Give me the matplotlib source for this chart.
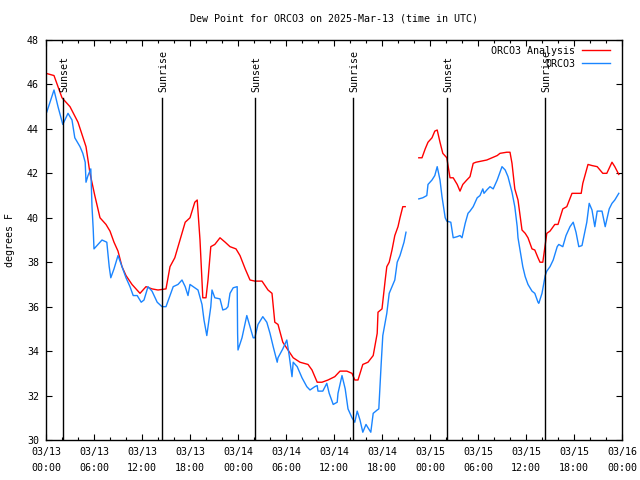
import matplotlib
matplotlib.use("Agg")
import matplotlib.pyplot as plt
import numpy as np

# hours since 2025-03-13 00:00 UTC
red_hours = [0, 1, 1.4, 2, 3, 4, 5, 5.5, 6.1, 6.75, 7.5, 8, 8.5, 9, 9.5, 10, 10.75,
             11.75, 12.5, 13.25, 14, 15, 15.5, 16.1, 16.75, 17.4, 18, 18.6, 18.9,
             19.25, 19.6, 20, 20.25, 20.6, 21.1, 21.75, 22.4, 23, 23.75, 24.25, 24.9,
             25.5, 26.1, 27, 27.75, 28.25, 28.6, 29, 29.6, 30.25, 30.9, 31.75, 32.75,
             33.25, 33.9, 34.5, 35.25, 36.1, 36.75, 37.6, 38.25, 38.6, 39, 39.6, 40.25,
             40.9, 41.4, 41.5, 42, 42.4, 42.6, 42.9, 43.25, 43.6, 44, 44.25, 44.6, 44.9,
             45.8,
             46.6, 47, 47.4, 47.75, 48.25, 48.6, 48.9, 49.25, 49.6, 50.1, 50.5, 50.9,
             51.4, 51.75, 52.1, 52.6, 53, 53.4, 53.75, 55.1, 56.4, 56.75, 57.6, 58,
             58.25, 58.6, 59, 59.5, 59.9, 60.25, 60.75, 61.1, 61.5, 61.75, 62.1, 62.4,
             62.6, 63, 63.6, 64, 64.6, 65.1, 65.75, 66.5, 66.9, 67.1, 67.75, 68.25,
             68.9, 69.6, 70.1, 70.75, 71.1, 71.6]
red_vals = [46.5, 46.4, 46.0, 45.4, 45.0, 44.3, 43.2, 42.0, 41.0, 40.0, 39.7, 39.4, 38.9,
            38.5, 37.8, 37.4, 37.0, 36.6, 36.9, 36.8, 36.75, 36.8, 37.8, 38.2, 39.0,
            39.8, 40.0, 40.7, 40.8, 39.0, 36.4, 36.4, 37.2, 38.7, 38.8, 39.1, 38.9,
            38.7, 38.6, 38.3, 37.7, 37.2, 37.15, 37.15, 36.75, 36.6, 35.3, 35.2, 34.4,
            34.05, 33.7, 33.5, 33.4, 33.15, 32.6, 32.6, 32.7, 32.85, 33.1, 33.1, 33.0,
            32.7, 32.7, 33.4, 33.5, 33.8, 34.8, 35.75, 35.9, 37.2, 37.8, 38.0, 38.55,
            39.2, 39.6, 40.0, 40.5, 40.5,
            np.nan,
            42.7, 42.7, 43.1, 43.4, 43.6, 43.9, 43.95, 43.4, 42.9, 42.7, 41.8, 41.8,
            41.5, 41.2, 41.5, 41.7, 41.85, 42.45, 42.5, 42.6, 42.8, 42.9, 42.95, 42.95,
            42.45, 41.3, 40.8, 39.45, 39.3, 39.1, 38.6, 38.55, 38.2, 38.0, 38.0, 38.8,
            39.3, 39.4, 39.7, 39.7, 40.4, 40.5, 41.1, 41.1, 41.1, 41.55, 42.4, 42.35,
            42.3, 42.0, 42.0, 42.5, 42.3, 41.95]

blue_hours = [0.1, 1, 1.5, 2.1, 2.75, 3.25, 3.6, 4.25, 4.6, 4.9, 5, 5.25, 5.6, 5.75, 5.9,
              6, 6.5, 7, 7.6, 7.9, 8.1, 8.5, 9, 9.5, 10, 10.5, 10.9, 11.4, 11.9, 12.25,
              12.75, 13.25, 13.9, 14.5, 15, 15.5, 15.9, 16.5, 17, 17.4, 17.75, 18, 18.6,
              19, 19.5, 19.75, 20.1, 20.25, 20.6, 20.75, 21.1, 21.75, 22.1, 22.5, 22.75,
              23, 23.4, 23.9, 23.95, 24, 24.5, 25.1, 25.5, 25.9, 26.1, 26.5, 27.1, 27.6,
              28, 28.4, 28.9, 29, 29.6, 30.1, 30.4, 30.75, 30.9, 31.4, 32, 32.6, 33,
              33.6, 33.9, 34, 34.6, 35.1, 35.4, 35.9, 36.4, 36.5, 37, 37.4, 37.75, 38.25,
              38.6, 38.9, 39.25, 39.6, 40, 40.25, 40.6, 40.9, 41.4, 41.6, 41.9, 42.1,
              42.6, 42.9, 43.25, 43.6, 43.9, 44.25, 44.5, 44.75, 45,
              45.8,
              46.6, 47.1, 47.6, 47.75, 48.25, 48.6, 48.9, 49.25, 49.5, 49.9, 50.1, 50.6,
              50.9, 51.4, 51.75, 52, 52.4, 52.75, 53, 53.4, 53.9, 54.25, 54.6, 54.75,
              55.1, 55.5, 55.9, 56.4, 57, 57.4, 57.75, 58.25, 58.6, 58.9, 59, 59.4,
              59.6, 59.9, 60.25, 60.75, 61.1, 61.5, 61.6, 62, 62.4, 62.6, 63, 63.4,
              63.9, 64.1, 64.6, 65, 65.5, 65.9, 66.25, 66.6, 67, 67.4, 67.6, 67.9,
              68.25, 68.6, 68.9, 69.5, 69.9, 70.4, 70.75, 71.1, 71.6]
blue_vals = [44.76, 45.75, 45.0, 44.2, 44.7, 44.4, 43.6, 43.2, 42.9, 42.5, 41.6, 41.9,
             42.2, 40.5, 39.5, 38.6, 38.8, 39.0, 38.9, 37.8, 37.3, 37.7, 38.3, 37.8,
             37.3, 36.9, 36.5, 36.5, 36.2, 36.3, 36.9, 36.7, 36.2, 36.0, 36.0, 36.5,
             36.9, 37.0, 37.2, 36.9, 36.5, 37.0, 36.85, 36.75, 36.1, 35.4, 34.7, 35.1,
             36.0, 36.75, 36.4, 36.35, 35.85, 35.9, 36.0, 36.6, 36.85, 36.9, 34.8,
             34.05, 34.6, 35.6, 35.1, 34.6, 34.6, 35.2, 35.55, 35.3, 34.8, 34.2, 33.5,
             33.7, 34.1, 34.5, 33.8, 32.85, 33.5, 33.3, 32.8, 32.4, 32.25, 32.4, 32.45,
             32.2, 32.2, 32.55, 32.1, 31.6, 31.7, 32.1, 32.9, 32.3, 31.4, 31.0, 30.8,
             31.3, 30.9, 30.35, 30.7, 30.55, 30.35, 31.2, 31.35, 31.4, 33.45, 34.7,
             35.7, 36.6, 36.9, 37.2, 38.0, 38.3, 38.6, 38.9, 39.35,
             np.nan,
             40.85, 40.9, 41.0, 41.5, 41.7, 41.9, 42.3, 41.7, 40.95, 40.0, 39.85, 39.8,
             39.1, 39.15, 39.2, 39.1, 39.75, 40.2, 40.3, 40.5, 40.9, 41.0, 41.3, 41.1,
             41.25, 41.4, 41.3, 41.7, 42.3, 42.15, 41.85, 41.15, 40.5, 39.6, 39.1,
             38.25, 37.8, 37.35, 37.0, 36.7, 36.6, 36.2, 36.15, 36.6, 37.4, 37.6, 37.8,
             38.1, 38.7, 38.8, 38.7, 39.2, 39.6, 39.8, 39.35, 38.7, 38.75, 39.45, 39.8,
             40.65, 40.35, 39.6, 40.3, 40.3, 39.6, 40.4, 40.65, 40.8, 41.1]

sun_hours = [2.1, 14.5, 26.1, 38.4, 50.1, 62.4]
sun_labels = ["Sunset", "Sunrise", "Sunset", "Sunrise", "Sunset", "Sunrise"]

major_ticks = list(range(0, 73, 6))
tick_labels = ["03/13\n00:00", "03/13\n06:00", "03/13\n12:00", "03/13\n18:00",
               "03/14\n00:00", "03/14\n06:00", "03/14\n12:00", "03/14\n18:00",
               "03/15\n00:00", "03/15\n06:00", "03/15\n12:00", "03/15\n18:00",
               "03/16\n00:00"]
y_ticks = list(range(30, 49, 2))

plt.rcParams["font.family"] = ["DejaVu Sans Mono"]
FS = 7.2

fig = plt.figure(figsize=(6.4, 4.8), dpi=100)
ax = fig.add_axes([46 / 640, 40 / 480, 576 / 640, 400 / 480])

ax.plot(red_hours, red_vals, color="#ff0000", lw=1.0, label="ORCO3 Analysis")
ax.plot(blue_hours, blue_vals, color="#1a85ff", lw=1.0, label="ORCO3")

ymin, ymax = 30, 48
line_top = 45.4
for h, lab in zip(sun_hours, sun_labels):
    ax.axvline(h, ymin=0, ymax=(line_top - ymin) / (ymax - ymin), color="black", lw=1.0)
    ax.text(h + 0.15, 45.65, lab, rotation=90, ha="center", va="bottom", fontsize=FS)

ax.set_xlim(0, 72)
ax.set_ylim(ymin, ymax)
ax.set_xticks(major_ticks)
ax.set_xticklabels(tick_labels, fontsize=FS)
for t in ax.get_xticklabels():
    t.set_linespacing(1.75)
ax.set_xticks(range(0, 73, 2), minor=True)
ax.set_yticks(y_ticks)
ax.set_yticklabels([str(v) for v in y_ticks], fontsize=FS)
ax.tick_params(which="both", direction="in", top=True, right=True, width=0.8)
ax.tick_params(which="major", length=4.5, pad=5)
ax.tick_params(which="minor", length=2.5)
for s in ax.spines.values():
    s.set_linewidth(1.0)

ax.set_ylabel("degrees F", fontsize=FS, labelpad=9)
ax.set_title("Dew Point for ORCO3 on 2025-Mar-13 (time in UTC)", fontsize=FS, pad=13)

ax.legend(loc="upper right", bbox_to_anchor=(0.979, 0.986), frameon=False,
          markerfirst=False, fontsize=FS, handlelength=2.8, handletextpad=0.7,
          labelspacing=0.3, borderaxespad=0.0, borderpad=0.0)

fig.savefig("out.png", dpi=100)
